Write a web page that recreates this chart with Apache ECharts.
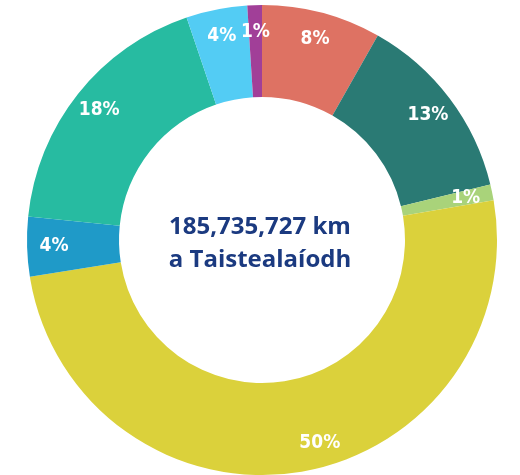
<!DOCTYPE html>
<html lang="en">
<head>
    <meta charset="UTF-8">
    <script src="https://cdn.jsdelivr.net/npm/echarts@6/dist/echarts.min.js"></script>
    <title>Taistealaí</title>
    <style type="text/css">
        html, body { margin: 0; padding: 0; background: #fff; }
        #chart { width: 520px; height: 475px; }
    </style>
</head>
<body>
<div id="chart"></div>
<script type="text/javascript">
    // sciar gach catagóire, ag tosú ag a 12 a chlog, deiseal
    const shares = [8.2, 13.0, 1.1, 50.2, 4.1, 18.2, 4.2, 1.0];
    const labels = ['8%', '13%', '1%', '50%', '4%', '18%', '4%', '1%'];
    const colors = ['#DE7263', '#2A7A74', '#A9D37A', '#DBD13B', '#1F9AC8', '#27BBA1', '#53CCF4', '#A13F98'];
    const totalText = '185,735,727 km';
    const subText = 'a Taistealaíodh';

    const myChart = echarts.init(document.getElementById('chart'));

    const ringData = shares.map(function (v, i) {
        return { value: v, name: labels[i], itemStyle: { color: colors[i] } };
    });
    const labelData = shares.map(function (v, i) {
        const item = { value: v, name: labels[i] };
        // tá lipéad an sciair mhóir beagán ar dheis sa bhunleagan
        if (v > 40) item.label = { offset: [24, -2] };
        return item;
    });

    const option = {
        animation: false,
        title: {
            text: totalText + '\n' + subText,
            left: 'center',
            top: 206,
            textStyle: {
                fontFamily: 'Open Sans',
                fontWeight: 'bold',
                fontSize: 24,
                lineHeight: 33,
                color: '#1B3A80'
            }
        },
        series: [{
            type: 'pie',
            center: [262, 240],
            radius: [143, 235],
            startAngle: 90,
            silent: true,
            label: { show: false },
            labelLine: { show: false },
            itemStyle: { borderWidth: 0 },
            data: ringData
        }, {
            // sraith thrédhearcach chun na lipéid a chur níos faide amach
            type: 'pie',
            center: [262, 240],
            radius: [180, 230],
            startAngle: 90,
            silent: true,
            itemStyle: { color: 'rgba(0,0,0,0)' },
            label: {
                show: true,
                position: 'inside',
                formatter: '{b}',
                color: '#fff',
                fontFamily: '"DejaVu Sans Condensed", "Roboto", sans-serif',
                fontWeight: 'bold',
                fontSize: 19
            },
            labelLine: { show: false },
            data: labelData
        }]
    };

    myChart.setOption(option);
</script>
</body>
</html>
